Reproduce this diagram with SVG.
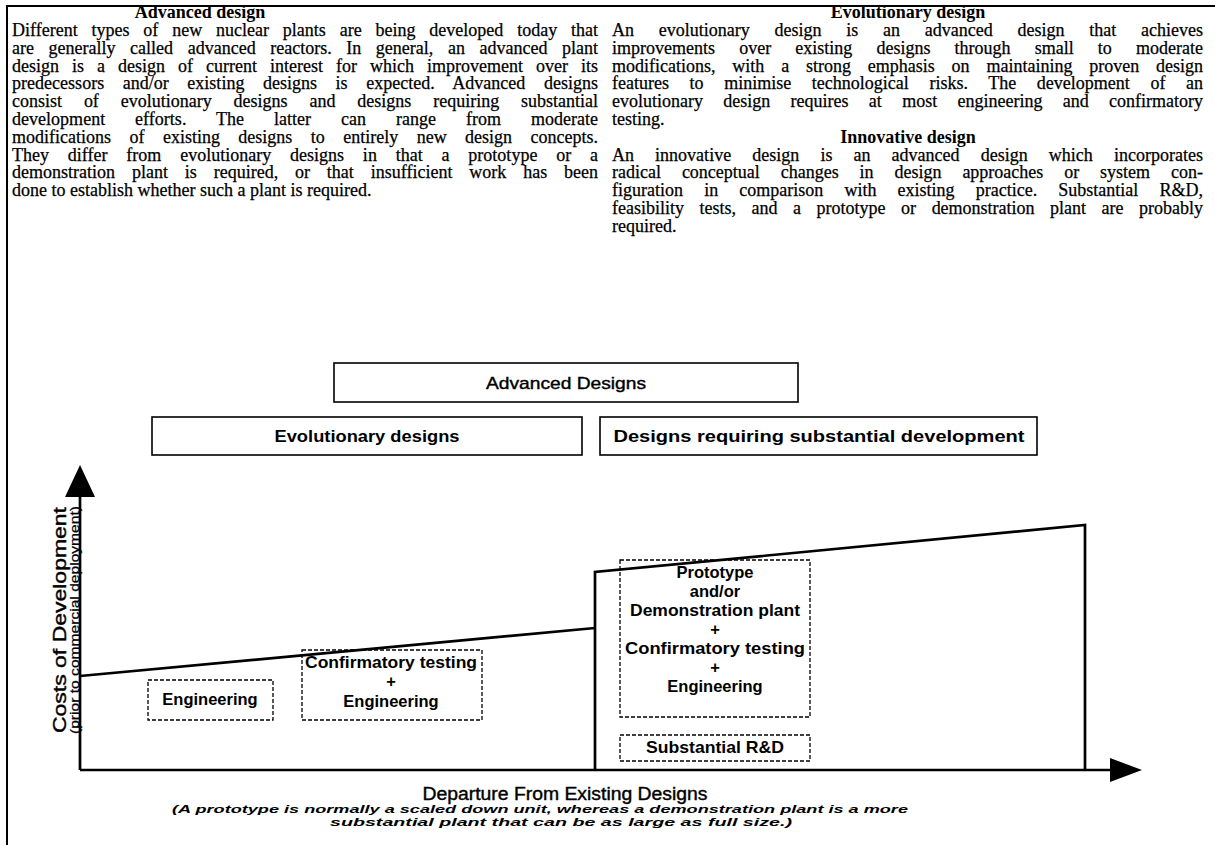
<svg xmlns="http://www.w3.org/2000/svg" width="1215" height="845" viewBox="0 0 1215 845">
<defs>
<style>
.t{font-family:"Liberation Serif","Times New Roman",serif;font-size:18px;fill:#000;stroke:#000;stroke-width:0.25}
.th{font-family:"Liberation Serif","Times New Roman",serif;font-size:18px;font-weight:bold;fill:#000;text-anchor:middle}
.s{font-family:"Liberation Sans",Arial,sans-serif;font-size:17px;fill:#000;stroke:#000;stroke-width:0.4;text-anchor:middle}
.sb{font-family:"Liberation Sans",Arial,sans-serif;font-size:16.5px;font-weight:bold;fill:#000;text-anchor:middle}
.box{fill:#fff;stroke:#000;stroke-width:1.6}
.dash{fill:none;stroke:#000;stroke-width:1.3;stroke-dasharray:4 2}
.ln{fill:none;stroke:#000;stroke-width:2.7}
</style>
</defs>
<rect width="1215" height="845" fill="#fff"/>
<g id="frame">
<path d="M7 845 V6 H1215" fill="none" stroke="#000" stroke-width="2"/>
</g>
<g id="text-left">
<text class="th" x="200" y="18">Advanced design</text>
<text class="t" x="12" y="36" word-spacing="9.3" textLength="586" lengthAdjust="spacing">Different types of new nuclear plants are being developed today that</text>
<text class="t" x="12" y="53.8" word-spacing="10.1" textLength="586" lengthAdjust="spacing">are generally called advanced reactors. In general, an advanced plant</text>
<text class="t" x="12" y="71.6" word-spacing="8.5" textLength="586" lengthAdjust="spacing">design is a design of current interest for which improvement over its</text>
<text class="t" x="12" y="89.4" word-spacing="14" textLength="586" lengthAdjust="spacing">predecessors and/or existing designs is expected. Advanced designs</text>
<text class="t" x="12" y="107.2" word-spacing="17.4" textLength="586" lengthAdjust="spacing">consist of evolutionary designs and designs requiring substantial</text>
<text class="t" x="12" y="125" word-spacing="25.4" textLength="586" lengthAdjust="spacing">development efforts. The latter can range from moderate</text>
<text class="t" x="12" y="142.8" word-spacing="13.9" textLength="586" lengthAdjust="spacing">modifications of existing designs to entirely new design concepts.</text>
<text class="t" x="12" y="160.6" word-spacing="14.3" textLength="586" lengthAdjust="spacing">They differ from evolutionary designs in that a prototype or a</text>
<text class="t" x="12" y="178.4" word-spacing="12.3" textLength="586" lengthAdjust="spacing">demonstration plant is required, or that insufficient work has been</text>
<text class="t" x="12" y="196.2">done to establish whether such a plant is required.</text>
</g>
<g id="text-right">
<text class="th" x="908" y="18">Evolutionary design</text>
<text class="t" x="612" y="36" word-spacing="20.3" textLength="591" lengthAdjust="spacing">An evolutionary design is an advanced design that achieves</text>
<text class="t" x="612" y="53.8" word-spacing="19.6" textLength="591" lengthAdjust="spacing">improvements over existing designs through small to moderate</text>
<text class="t" x="612" y="71.6" word-spacing="12.3" textLength="591" lengthAdjust="spacing">modifications, with a strong emphasis on maintaining proven design</text>
<text class="t" x="612" y="89.4" word-spacing="16.1" textLength="591" lengthAdjust="spacing">features to minimise technological risks. The development of an</text>
<text class="t" x="612" y="107.2" word-spacing="15.8" textLength="591" lengthAdjust="spacing">evolutionary design requires at most engineering and confirmatory</text>
<text class="t" x="612" y="125">testing.</text>
<text class="th" x="908" y="142.8">Innovative design</text>
<text class="t" x="612" y="160.6" word-spacing="16.6" textLength="591" lengthAdjust="spacing">An innovative design is an advanced design which incorporates</text>
<text class="t" x="612" y="178.4" word-spacing="16.4" textLength="591" lengthAdjust="spacing">radical conceptual changes in design approaches or system con-</text>
<text class="t" x="612" y="196.2" word-spacing="16.6" textLength="591" lengthAdjust="spacing">figuration in comparison with existing practice. Substantial R&amp;D,</text>
<text class="t" x="612" y="214" word-spacing="11.1" textLength="591" lengthAdjust="spacing">feasibility tests, and a prototype or demonstration plant are probably</text>
<text class="t" x="612" y="231.8">required.</text>
</g>
<g id="chart">
<path class="ln" d="M80 770 H1112"/>
<path d="M1142 770 L1110 758 L1110 782 Z" fill="#000"/>
<path class="ln" d="M80 770 V495"/>
<path d="M80 465 L65 497 L95 497 Z" fill="#000"/>
<path class="ln" d="M80 676 L595 628"/>
<path class="ln" d="M595 770 V572 L1085 525 V770"/>
</g>
<g id="advanced-designs">
<rect class="box" x="334" y="363" width="464" height="39"/>
<text class="s" x="566" y="389" textLength="160" lengthAdjust="spacingAndGlyphs">Advanced Designs</text>
</g>
<g id="evolutionary-designs">
<rect class="box" x="152" y="417" width="430" height="38"/>
<text class="sb" x="367" y="442" textLength="185" lengthAdjust="spacingAndGlyphs">Evolutionary designs</text>
</g>
<g id="substantial-designs">
<rect class="box" x="600" y="417" width="437" height="38"/>
<text class="sb" x="819" y="442" textLength="411" lengthAdjust="spacingAndGlyphs">Designs requiring substantial development</text>
</g>
<g id="engineering">
<rect class="dash" x="148" y="680" width="125" height="40"/>
<text class="sb" x="210" y="705">Engineering</text>
</g>
<g id="confirmatory">
<rect class="dash" x="302" y="650" width="180" height="70"/>
<text class="sb" x="391" y="668" textLength="172" lengthAdjust="spacingAndGlyphs">Confirmatory testing</text>
<text class="sb" x="391" y="687">+</text>
<text class="sb" x="391" y="707">Engineering</text>
</g>
<g id="prototype">
<rect class="dash" x="620" y="560" width="190" height="157"/>
<text class="sb" x="715" y="578">Prototype</text>
<text class="sb" x="715" y="597">and/or</text>
<text class="sb" x="715" y="616" textLength="170" lengthAdjust="spacingAndGlyphs">Demonstration plant</text>
<text class="sb" x="715" y="635">+</text>
<text class="sb" x="715" y="654" textLength="180" lengthAdjust="spacingAndGlyphs">Confirmatory testing</text>
<text class="sb" x="715" y="673">+</text>
<text class="sb" x="715" y="692">Engineering</text>
</g>
<g id="rnd">
<rect class="dash" x="620" y="735" width="190" height="26"/>
<text class="sb" x="715" y="753" textLength="138" lengthAdjust="spacingAndGlyphs">Substantial R&amp;D</text>
</g>
<g id="labels">
<text class="s" transform="translate(66 620) rotate(-90)" style="font-size:18px" textLength="226" lengthAdjust="spacingAndGlyphs">Costs of Development</text>
<text class="s" transform="translate(79 620) rotate(-90)" style="font-size:12px;stroke-width:0.2" textLength="228" lengthAdjust="spacingAndGlyphs">(prior to commercial deployment)</text>
<text class="s" x="565" y="800" style="font-size:18px" textLength="285" lengthAdjust="spacingAndGlyphs">Departure From Existing Designs</text>
<text class="sb" x="540" y="813" style="font-size:11px;font-style:italic" textLength="736" lengthAdjust="spacingAndGlyphs">(A prototype is normally a scaled down unit, whereas a demonstration plant is a more</text>
<text class="sb" x="561" y="826" style="font-size:11px;font-style:italic" textLength="462" lengthAdjust="spacingAndGlyphs">substantial plant that can be as large as full size.)</text>
</g>
</svg>
